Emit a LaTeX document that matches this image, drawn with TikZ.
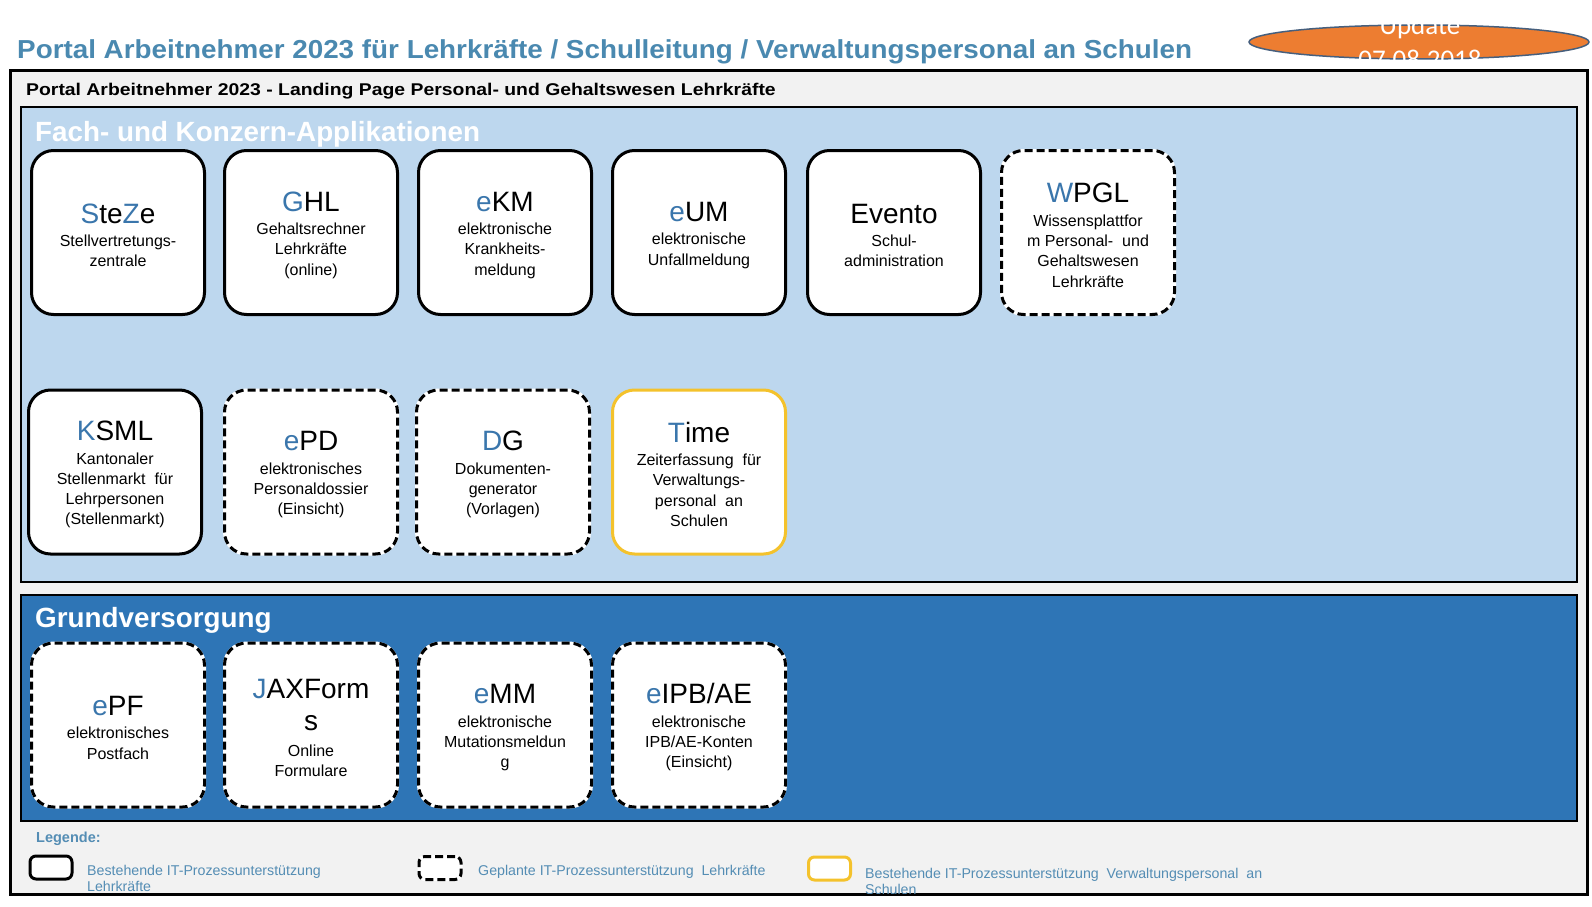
\documentclass[tikz,border=0pt]{standalone}
\usepackage{fontspec}
\usetikzlibrary{shapes.geometric}
\setmainfont{Liberation Sans}
\newfontfamily\calfont{Carlito}
\newfontfamily\ttlfont{Liberation Sans}[FakeStretch=1.07]
\newfontfamily\subfont{Liberation Sans}[FakeStretch=1.14]
\definecolor{lblue}{RGB}{58,118,172}
\definecolor{ttl}{RGB}{74,137,176}
\definecolor{legc}{RGB}{84,141,180}
\definecolor{panellight}{RGB}{189,215,238}
\definecolor{paneldark}{RGB}{46,117,182}
\definecolor{framegray}{RGB}{242,242,242}
\definecolor{ora}{RGB}{237,125,49}
\definecolor{ellb}{RGB}{70,95,125}
\definecolor{yel}{RGB}{244,194,44}
\newcommand\bl[1]{\textcolor{lblue}{#1}}
\newcommand\tsz{\fontsize{28}{32}\selectfont}
\newcommand\apptitle[1]{{\tsz\rule{0pt}{25pt}#1}}
\tikzset{
  app/.style={draw=black, line width=3pt, fill=white, rounded corners=22pt,
    minimum width=173pt, minimum height=164pt, align=center, inner sep=2pt,
    font=\fontsize{16}{20.3}\selectfont, text=black},
  planned/.style={app, draw=white, postaction={draw=black, line width=3pt, dash pattern=on 8pt off 4pt}},
  yelbox/.style={app, draw=yel},
  legbox/.style={line width=3pt, rounded corners=6pt, fill=white, minimum width=42pt, minimum height=23pt, inner sep=0pt},
  legtxt/.style={anchor=base west, text=legc, font=\fontsize{14.2}{16}\selectfont, inner sep=0pt, align=left},
  sect/.style={anchor=base west, text=white, font=\bfseries\fontsize{27.8}{30}\selectfont, inner sep=0pt},
  panel/.style={draw=black, line width=2pt},
}
\begin{document}
\begin{tikzpicture}[x=1pt,y=-1pt]
\useasboundingbox (0,0) rectangle (1592,907);
\fill[white] (0,0) rectangle (1592,907);
% title
\node[anchor=base west, inner sep=0pt, text=ttl, font=\ttlfont\bfseries\fontsize{26}{30}\selectfont] (title) at (17,59) {Portal Arbeitnehmer 2023 für Lehrkräfte / Schulleitung / Verwaltungspersonal an Schulen};
% update ellipse
\node[ellipse, draw=ellb, line width=1.5pt, fill=ora, minimum width=340pt, minimum height=34pt, inner sep=0pt] (upd) at (1419,42) {};
\node[text=white, font=\calfont\fontsize{27}{33}\selectfont, align=center, anchor=base, inner sep=0pt] (updtxt) at (1420,68) {Update\\07.08.2018};
% frame
\node[draw=black, line width=2pt, fill=framegray, minimum width=1576pt, minimum height=823pt, inner sep=0pt, anchor=north west] (frame) at (10,70) {};
\node[anchor=base west, inner sep=0pt, font=\subfont\bfseries\fontsize{17}{20}\selectfont] (sub) at (26,95) {Portal Arbeitnehmer 2023 - Landing Page Personal- und Gehaltswesen Lehrkräfte};
% panels
\node[panel, fill=panellight, minimum width=1556pt, minimum height=475pt, inner sep=0pt, anchor=north west] (p1) at (20,106) {};
\node[sect] (s1) at (35,141) {Fach- und Konzern-Applikationen};
\node[panel, fill=paneldark, minimum width=1556pt, minimum height=226pt, inner sep=0pt, anchor=north west] (p2) at (20,594) {};
\node[sect] (s2) at (35,627) {Grundversorgung};
% row 1
\node[app] (steze) at (118,232.5) {\apptitle{\bl{S}te\bl{Z}e}\\[3pt]Stellvertretungs-\\zentrale};
\node[app] (ghl) at (311,232.5) {\apptitle{\bl{G}HL}\\[3pt]Gehaltsrechner\\Lehrkräfte\\(online)};
\node[app] (ekm) at (505,232.5) {\apptitle{\bl{e}KM}\\[3pt]elektronische\\Krankheits-\\meldung};
\node[app] (eum) at (699,232.5) {\apptitle{\bl{e}UM}\\[3pt]elektronische\\Unfallmeldung};
\node[app] (evento) at (894,232.5) {\apptitle{Evento}\\[3pt]Schul-\\administration};
\node[planned] (wpgl) at (1088,232.5) {\apptitle{\bl{W}PGL}\\[3pt]Wissensplattfor\\m Personal-\ \ und\\Gehaltswesen\\Lehrkräfte};
% row 2
\node[app] (ksml) at (115,472) {\apptitle{\bl{K}SML}\\[3pt]Kantonaler\\Stellenmarkt\ \ für\\Lehrpersonen\\(Stellenmarkt)};
\node[planned] (epd) at (311,472) {\apptitle{\bl{e}PD}\\[3pt]elektronisches\\Personaldossier\\(Einsicht)};
\node[planned] (dg) at (503,472) {\apptitle{\bl{D}G}\\[3pt]Dokumenten-\\generator\\(Vorlagen)};
\node[yelbox] (time) at (699,472) {\apptitle{\bl{T}ime}\\[3pt]Zeiterfassung\ \ für\\Verwaltungs-\\personal\ \ an\\Schulen};
% row 3
\node[planned] (epf) at (118,725) {\apptitle{\bl{e}PF}\\[3pt]elektronisches\\Postfach};
\node[planned] (jax) at (311,725) {\apptitle{\bl{J}AXForm}\\[12pt]{\tsz s}\\[5pt]Online\\Formulare};
\node[planned] (emm) at (505,725) {\apptitle{\bl{e}MM}\\[3pt]elektronische\\Mutationsmeldun\\g};
\node[planned] (eipb) at (699,725) {\apptitle{\bl{e}IPB/AE}\\[3pt]elektronische\\IPB/AE-Konten\\(Einsicht)};
% legend
\node[anchor=base west, inner sep=0pt, text=legc, font=\bfseries\fontsize{14.5}{16}\selectfont] (leg) at (36,842) {Legende:};
\node[legbox, draw=black] (l1) at (51,867.5) {};
\node[legbox, draw=white, postaction={draw=black, line width=3pt, dash pattern=on 8pt off 4pt}] (l2) at (440,868) {};
\node[legbox, draw=yel] (l3) at (829.5,868.5) {};
\begin{scope}
\clip (10,70) rectangle (1586,896);
\node[legtxt] (t1) at (87,891) {Bestehende IT-Prozessunterstützung\\Lehrkräfte};
\node[legtxt] (t2) at (478,875) {Geplante IT-Prozessunterstützung\ \ Lehrkräfte};
\node[legtxt] (t3) at (865,894) {Bestehende IT-Prozessunterstützung\ \ Verwaltungspersonal\ \ an\\Schulen};
\end{scope}
\draw[line width=2pt] (frame.north west) rectangle (frame.south east);
\end{tikzpicture}
\end{document}
